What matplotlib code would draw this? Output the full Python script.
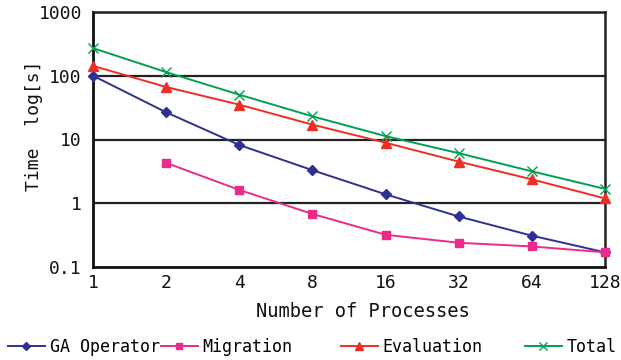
import matplotlib
matplotlib.use("Agg")
import matplotlib.pyplot as plt
from matplotlib.ticker import FixedLocator, NullLocator

processes = [1, 2, 4, 8, 16, 32, 64, 128]
x_labels = ["1", "2", "4", "8", "16", "32", "64", "128"]
ga_operator = [100, 26.7, 8.2, 3.3, 1.38, 0.62, 0.31, 0.17]
migration_x = [2, 4, 8, 16, 32, 64, 128]
migration = [4.3, 1.62, 0.68, 0.32, 0.24, 0.21, 0.17]
evaluation = [143, 66.6, 35.2, 17.1, 8.9, 4.5, 2.37, 1.19]
total = [271, 114, 50.5, 23.1, 11.3, 6.1, 3.17, 1.68]
y_ticks = [0.1, 1, 10, 100, 1000]
y_labels = ["0.1", "1", "10", "100", "1000"]

plt.rcParams['font.family'] = ['DejaVu Sans Mono', 'DejaVu Sans']

W, H = 621, 360
fig = plt.figure(figsize=(W / 100, H / 100), dpi=100)
ax = fig.add_axes([93 / W, 1 - 267 / H, (605 - 93) / W, (267 - 12) / H])

ax.set_xscale('log', base=2)
ax.set_yscale('log')
ax.set_xlim(1, 128)
ax.set_ylim(0.1, 1000)

for yv in [1, 10, 100, 1000]:
    ax.axhline(yv, color='#222222', lw=1.6, zorder=1)

lw = 1.4
lines = []
lines.append(ax.plot(processes, ga_operator, color='#2E3192', lw=lw, marker='D', ms=5.5,
                     label='GA Operator', zorder=3, clip_on=False)[0])
lines.append(ax.plot(migration_x, migration, color='#EC2A8C', lw=lw, marker='s', ms=6,
                     label='Migration', zorder=3, clip_on=False)[0])
lines.append(ax.plot(processes, evaluation, color='#EE2E24', lw=lw, marker='^', ms=7,
                     label='Evaluation', zorder=3, clip_on=False)[0])
lines.append(ax.plot(processes, total, color='#00A050', lw=lw, marker='x', ms=7, mew=1.0,
                     label='Total', zorder=3, clip_on=False)[0])

ax.xaxis.set_major_locator(FixedLocator(processes))
ax.xaxis.set_minor_locator(NullLocator())
ax.set_xticklabels(x_labels)
ax.yaxis.set_major_locator(FixedLocator(y_ticks))
ax.yaxis.set_minor_locator(NullLocator())
ax.set_yticklabels(y_labels)

ax.tick_params(axis='both', labelsize=13, length=0, colors='#111111')
ax.tick_params(axis='y', pad=8)
ax.tick_params(axis='x', pad=5)

for s in ['left', 'bottom']:
    ax.spines[s].set_linewidth(2.0)
    ax.spines[s].set_color('#111111')
for s in ['top', 'right']:
    ax.spines[s].set_linewidth(1.8)
    ax.spines[s].set_color('#222222')

ax.set_xlabel('Number of Processes', fontsize=13.5, color='#111111')
ax.xaxis.set_label_coords((363 - 93) / 512, (267 - 302) / 255)
ax.set_ylabel('Time  log[s]', fontsize=13, color='#111111')
ax.yaxis.set_label_coords((43 - 93) / 512, (267 - 126) / 255)

legend_left = [8, 161, 341, 525]
for ln, xl in zip(lines, legend_left):
    fig.legend(handles=[ln], loc='center left', bbox_to_anchor=(xl / W, 1 - 347 / H),
               frameon=False, fontsize=12, handlelength=2.2, handletextpad=0.3,
               borderpad=0, borderaxespad=0, markerscale=0.8)

fig.savefig('out.png', dpi=100)
